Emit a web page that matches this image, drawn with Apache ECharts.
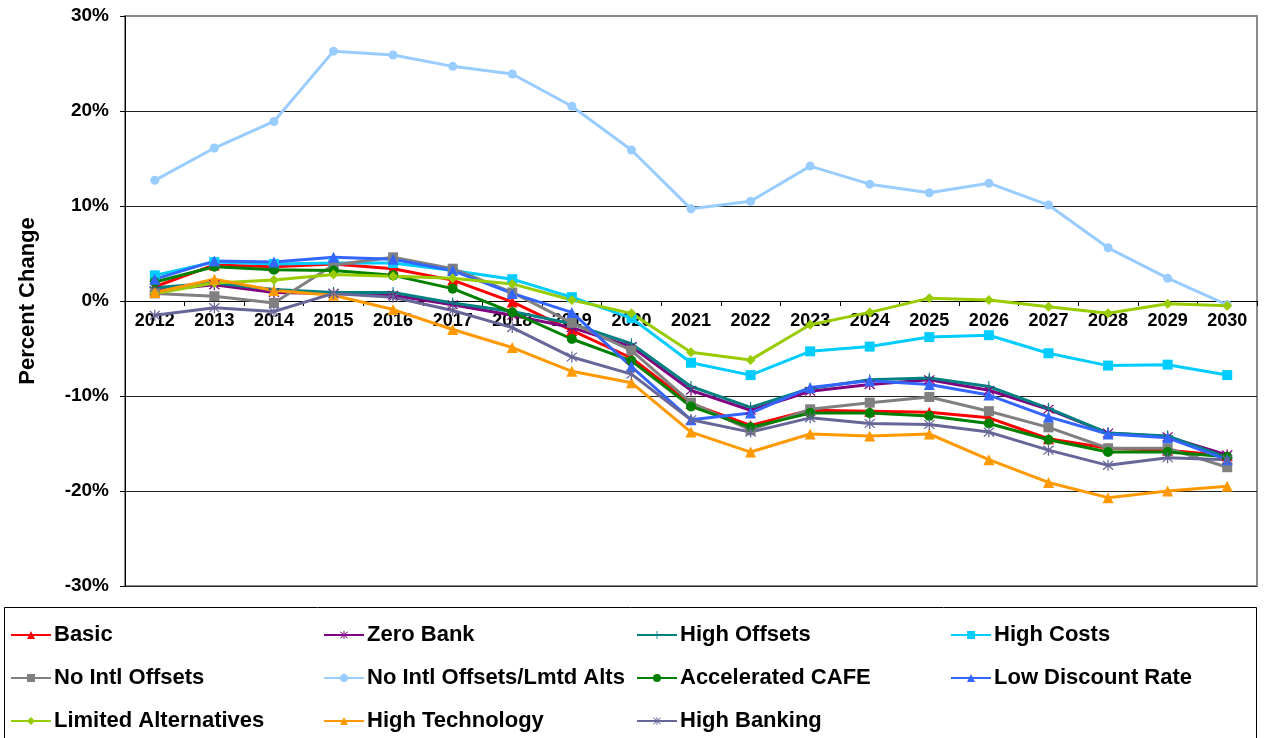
<!DOCTYPE html>
<html>
<head>
<meta charset="utf-8">
<script src="https://cdn.jsdelivr.net/npm/echarts@6/dist/echarts.min.js"></script>
<style>
  html, body { margin: 0; padding: 0; background: #fff; }
  #chart { width: 1264px; height: 738px; }
</style>
</head>
<body>
<div id="chart"></div>
<script>
var years = ['2012','2013','2014','2015','2016','2017','2018','2019','2020','2021','2022','2023','2024','2025','2026','2027','2028','2029','2030'];

var basic        = [1.5, 3.8, 3.6, 3.9, 3.4, 2.2, -0.1, -3.1, -6.0, -10.8, -13.1, -11.5, -11.6, -11.7, -12.3, -14.5, -15.5, -15.7, -16.3];
var zeroBank     = [1.1, 1.7, 0.9, 0.8, 0.6, -0.4, -1.5, -2.8, -4.8, -9.4, -11.5, -9.5, -8.8, -8.3, -9.4, -11.4, -13.9, -14.3, -16.2];
var highOffsets  = [1.4, 1.9, 1.2, 0.9, 0.9, -0.2, -1.1, -2.4, -4.5, -9.0, -11.2, -9.2, -8.3, -8.1, -9.0, -11.3, -13.9, -14.2, -16.5];
var highCosts    = [2.7, 4.1, 3.9, 4.0, 4.0, 3.2, 2.3, 0.4, -1.8, -6.5, -7.8, -5.3, -4.8, -3.8, -3.6, -5.5, -6.8, -6.7, -7.8];
var noIntl       = [0.8, 0.5, -0.2, 3.8, 4.6, 3.4, 0.9, -2.3, -5.2, -10.7, -13.6, -11.4, -10.7, -10.1, -11.6, -13.3, -15.5, -15.5, -17.5];
var noIntlLmtd   = [12.7, 16.1, 18.9, 26.3, 25.9, 24.7, 23.9, 20.5, 15.9, 9.7, 10.5, 14.2, 12.3, 11.4, 12.4, 10.1, 5.6, 2.4, -0.4];
var accelCafe    = [2.0, 3.6, 3.3, 3.2, 2.7, 1.3, -1.2, -4.0, -6.3, -11.1, -13.3, -11.8, -11.8, -12.1, -12.9, -14.6, -15.9, -15.9, -16.4];
var lowDiscount  = [2.3, 4.2, 4.1, 4.6, 4.4, 3.2, 0.8, -1.2, -6.9, -12.5, -11.8, -9.1, -8.4, -8.8, -9.9, -12.2, -14.0, -14.4, -16.7];
var limitedAlts  = [0.8, 1.9, 2.2, 2.8, 2.6, 2.4, 1.8, 0.1, -1.3, -5.4, -6.2, -2.5, -1.2, 0.3, 0.1, -0.6, -1.3, -0.3, -0.5];
var highTech     = [0.9, 2.3, 1.1, 0.6, -0.9, -3.0, -4.9, -7.4, -8.6, -13.8, -15.9, -14.0, -14.2, -14.0, -16.7, -19.1, -20.7, -20.0, -19.5];
var highBanking  = [-1.5, -0.7, -1.1, 0.8, 0.4, -1.0, -2.8, -5.9, -7.7, -12.5, -13.8, -12.3, -12.9, -13.0, -13.8, -15.7, -17.3, -16.5, -16.7];

var yTicks = [-30, -20, -10, 0, 10, 20, 30];

var STAR = 'path://M9,0L11,0L11,20L9,20Z M1.3,2.7L2.7,1.3L18.7,17.3L17.3,18.7Z M17.3,1.3L18.7,2.7L2.7,18.7L1.3,17.3Z';
var PLUS = 'path://M9,0L11,0L11,20L9,20Z M0,9L20,9L20,11L0,11Z';

function line(name, data, color, symbol, size) {
  return {
    name: name,
    type: 'line',
    data: data,
    symbol: symbol,
    symbolSize: size,
    showSymbol: true,
    lineStyle: { color: color, width: 3 },
    itemStyle: { color: color, borderWidth: 0 },
    emphasis: { disabled: true }
  };
}

var chart = echarts.init(document.getElementById('chart'), null, { renderer: 'canvas' });

var legendText = { color: '#000', fontSize: 22, fontWeight: 'bold', fontFamily: 'Liberation Sans, Arial, sans-serif', lineHeight: 22, padding: [0, 0, 0, -2] };
function legendCol(left, names) {
  return {
    orient: 'vertical', left: left, top: 624, itemGap: 21, padding: 0,
    itemWidth: 40, itemHeight: 10, textStyle: legendText,
    data: names, selectedMode: false
  };
}

// grid height 570px, 0% sits half way up -> move the category axis to it
var plotHeight = 570;

chart.setOption({
  animation: false,
  textStyle: { fontFamily: 'Liberation Sans, Arial, sans-serif' },
  grid: { left: 125, right: 7, top: 16, height: plotHeight, containLabel: false,
          show: true, borderColor: '#8c8c8c', borderWidth: 2, backgroundColor: 'transparent' },
  xAxis: {
    type: 'category',
    data: years,
    boundaryGap: true,
    position: 'bottom',
    offset: -plotHeight / 2,
    axisLine: { onZero: false, lineStyle: { color: '#000', width: 1 } },
    axisTick: { show: true, interval: 0, length: 5, lineStyle: { color: '#000' } },
    axisLabel: { interval: 0, margin: 11, color: '#000', fontSize: 18, fontWeight: 'bold' }
  },
  yAxis: {
    type: 'value',
    min: -30, max: 30, interval: 10,
    name: 'Percent Change',
    nameLocation: 'middle',
    nameGap: 86,
    nameTextStyle: { color: '#000', fontSize: 22, fontWeight: 'bold' },
    axisLine: { show: true, lineStyle: { color: '#000', width: 1 } },
    axisTick: { show: true, length: 5, lineStyle: { color: '#000' } },
    axisLabel: {
      margin: 16, color: '#000', fontSize: 19, fontWeight: 'bold',
      formatter: function (v) { return yTicks.indexOf(v) >= 0 ? v + '%' : ''; }
    },
    splitLine: { show: true, showMaxLine: false, lineStyle: { color: '#222', width: 1 } }
  },
  legend: [
    legendCol(10, ['Basic', 'No Intl Offsets', 'Limited Alternatives']),
    legendCol(323, ['Zero Bank', 'No Intl Offsets/Lmtd Alts', 'High Technology']),
    legendCol(636, ['High Offsets', 'Accelerated CAFE', 'High Banking']),
    legendCol(950, ['High Costs', 'Low Discount Rate'])
  ],
  graphic: [{
    type: 'rect',
    shape: { x: 4.5, y: 607.5, width: 1252, height: 140 },
    style: { fill: 'none', stroke: '#000', lineWidth: 1 },
    silent: true
  }],
  series: [
    line('Basic', basic, '#FF0000', 'triangle', 11),
    line('Zero Bank', zeroBank, '#800080', STAR, 11),
    line('High Offsets', highOffsets, '#008080', PLUS, 11),
    line('High Costs', highCosts, '#00CCFF', 'rect', 10),
    line('No Intl Offsets', noIntl, '#808080', 'rect', 10),
    line('No Intl Offsets/Lmtd Alts', noIntlLmtd, '#99CCFF', 'circle', 9),
    line('Accelerated CAFE', accelCafe, '#008000', 'circle', 10),
    line('Low Discount Rate', lowDiscount, '#3366FF', 'triangle', 11),
    line('Limited Alternatives', limitedAlts, '#99CC00', 'diamond', 10),
    line('High Technology', highTech, '#FF9900', 'triangle', 11),
    line('High Banking', highBanking, '#666699', STAR, 11)
  ]
});

window.addEventListener('resize', function () { chart.resize(); });
</script>
</body>
</html>
